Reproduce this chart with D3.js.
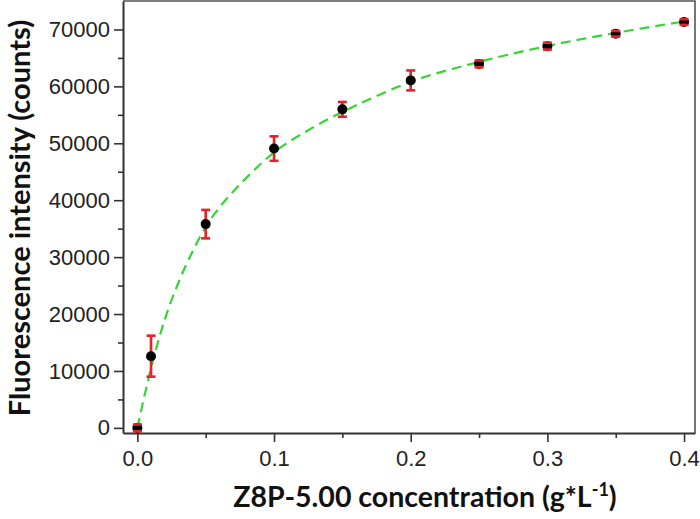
<!DOCTYPE html>
<meta charset="utf-8">
<style>
    body { margin: 0; background: #fff; }
    .tick-label { font-family: "Liberation Sans", Arial, sans-serif; font-size: 22px; fill: #222; }
    .axis-title { font-family: Lato, "Open Sans", sans-serif; font-weight: bold; fill: #111; }
    .axis path { stroke: #333; stroke-width: 2px; }
    .axis line { stroke: #333; stroke-width: 1.6px; }
</style>
<svg width="700" height="519"></svg>
<script src="https://d3js.org/d3.v7.min.js"></script>
<script>
    // measured points (concentration in g/L, intensity in counts)
    const conc = [0, 0.01, 0.05, 0.1, 0.15, 0.2, 0.25, 0.3, 0.35, 0.4];
    const intensity = [0, 12600, 35800, 49070, 55960, 61050, 63950, 67070, 69240, 71300];
    const errors = [600, 3600, 2500, 2150, 1300, 1750, 600, 600, 500, 500];

    // fitted curve
    const fitX = [0, 0.01, 0.02, 0.03, 0.04, 0.05, 0.06, 0.07, 0.08, 0.1, 0.125, 0.15, 0.175, 0.2, 0.25, 0.3, 0.35, 0.4];
    const fitY = [0, 10500, 19000, 25500, 30800, 35300, 38700, 41500, 44000, 48400, 52300, 55500, 58300, 60800, 64300, 67100, 69400, 71400];

    const xTicks = [0, 0.1, 0.2, 0.3, 0.4];
    const xMinor = [0.05, 0.15, 0.25, 0.35];
    const yTicks = [0, 10000, 20000, 30000, 40000, 50000, 60000, 70000];
    const yMinor = [5000, 15000, 25000, 35000, 45000, 55000, 65000];

    const svg = d3.select("svg");
    const plotLeft = 123, plotRight = 695, plotTop = 1, plotBottom = 433;

    const x = d3.scaleLinear().domain([-0.0105, 0.408]).range([plotLeft, plotRight]);
    const y = d3.scaleLinear().domain([-900, 75000]).range([plotBottom, plotTop]);

    // frame (top and right)
    svg.append("path")
        .attr("d", `M${plotLeft},${plotTop}H${plotRight}V${plotBottom}`)
        .attr("fill", "none")
        .attr("stroke", "#555")
        .attr("stroke-width", 1.6);

    // minor ticks
    svg.append("g").attr("class", "axis")
        .attr("transform", `translate(0,${plotBottom})`)
        .call(d3.axisBottom(x).tickValues(xMinor).tickSize(5).tickFormat(""))
        .select(".domain").remove();
    svg.append("g").attr("class", "axis")
        .attr("transform", `translate(${plotLeft},0)`)
        .call(d3.axisLeft(y).tickValues(yMinor).tickSize(5).tickFormat(""))
        .select(".domain").remove();

    // major axes
    const xAxis = svg.append("g").attr("class", "axis")
        .attr("transform", `translate(0,${plotBottom})`)
        .call(d3.axisBottom(x).tickValues(xTicks).tickSize(9).tickSizeOuter(0).tickPadding(8).tickFormat(d3.format(".1f")));
    xAxis.selectAll("text").attr("class", "tick-label").attr("fill", null);

    const yAxis = svg.append("g").attr("class", "axis")
        .attr("transform", `translate(${plotLeft},0)`)
        .call(d3.axisLeft(y).tickValues(yTicks).tickSize(9).tickSizeOuter(0).tickPadding(4).tickFormat(d3.format("d")));
    yAxis.selectAll("text").attr("class", "tick-label").attr("fill", null);

    // fitted curve
    const line = d3.line()
        .x((d, i) => x(fitX[i]))
        .y(d => y(d))
        .curve(d3.curveMonotoneX);

    svg.append("path")
        .datum(fitY)
        .attr("d", line)
        .attr("fill", "none")
        .attr("stroke", "#35d535")
        .attr("stroke-width", 2.2)
        .attr("stroke-dasharray", "10,6");

    const pts = conc.map((c, i) => ({ c: c, v: intensity[i], e: errors[i] }));

    // error bar stems (under the dots)
    svg.selectAll(".stem")
        .data(pts)
        .enter().append("line")
        .attr("x1", d => x(d.c))
        .attr("x2", d => x(d.c))
        .attr("y1", d => y(d.v - d.e))
        .attr("y2", d => y(d.v + d.e))
        .attr("stroke", "#e8202a")
        .attr("stroke-width", 2.6);

    svg.selectAll(".dot")
        .data(pts)
        .enter().append("circle")
        .attr("cx", d => x(d.c))
        .attr("cy", d => y(d.v))
        .attr("r", 5)
        .attr("fill", "#000");

    // caps
    [1, -1].forEach(s => {
        svg.selectAll(".cap" + s)
            .data(pts)
            .enter().append("line")
            .attr("x1", d => x(d.c) - 4.5)
            .attr("x2", d => x(d.c) + 4.5)
            .attr("y1", d => y(d.v + s * d.e))
            .attr("y2", d => y(d.v + s * d.e))
            .attr("stroke", "#e8202a")
            .attr("stroke-width", 2.6);
    });

    // axis titles
    const xt = svg.append("text")
        .attr("class", "axis-title")
        .attr("font-size", "28.5px")
        .attr("x", 425)
        .attr("y", 507)
        .attr("text-anchor", "middle");
    xt.append("tspan").text("Z8P-5.00 concentration (g*L");
    xt.append("tspan").attr("dy", -11).attr("font-size", "18px").text("-1");
    xt.append("tspan").attr("dy", 11).text(")");

    svg.append("text")
        .attr("class", "axis-title")
        .attr("font-size", "29px")
        .attr("transform", "translate(29.5,218) rotate(-90)")
        .attr("text-anchor", "middle")
        .text("Fluorescence intensity (counts)");
</script>
